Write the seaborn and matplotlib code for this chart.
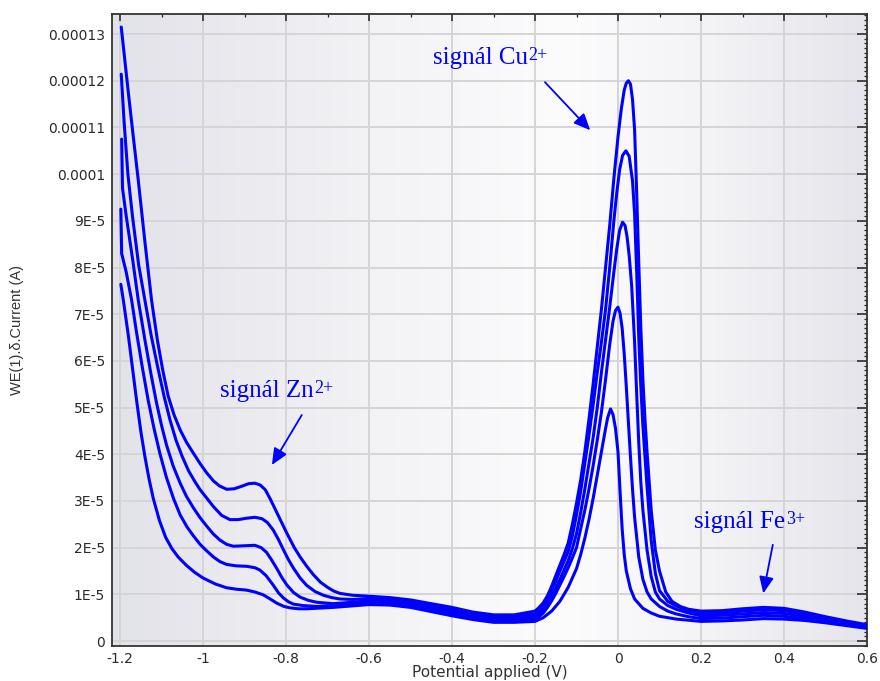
import numpy as np
import pandas as pd
import matplotlib
matplotlib.use("Agg")
import matplotlib.pyplot as plt
import seaborn as sns
from matplotlib.colors import LinearSegmentedColormap
from matplotlib.ticker import FixedLocator, MultipleLocator

# (potential V, current in 1E-5 A), lowest to highest
c0 = [(-1.198, 7.64), (-1.192, 7.3), (-1.18, 6.55), (-1.17, 5.85), (-1.16, 5.15), (-1.15, 4.5),
      (-1.14, 3.95), (-1.13, 3.47), (-1.12, 3.06), (-1.105, 2.58), (-1.09, 2.22), (-1.075, 1.98),
      (-1.06, 1.8), (-1.04, 1.62), (-1.02, 1.47), (-1.0, 1.35), (-0.97, 1.22), (-0.943, 1.14),
      (-0.92, 1.11), (-0.895, 1.09), (-0.875, 1.05), (-0.855, 0.99), (-0.84, 0.91), (-0.822, 0.81),
      (-0.805, 0.74), (-0.79, 0.71), (-0.77, 0.69), (-0.75, 0.69), (-0.686, 0.72), (-0.60, 0.78),
      (-0.55, 0.77), (-0.50, 0.72), (-0.45, 0.63), (-0.40, 0.54), (-0.35, 0.46), (-0.30, 0.40),
      (-0.25, 0.40), (-0.20, 0.42), (-0.18, 0.5), (-0.16, 0.64), (-0.14, 0.85), (-0.12, 1.15),
      (-0.10, 1.55), (-0.09, 1.85), (-0.08, 2.2), (-0.07, 2.6), (-0.06, 3.05), (-0.05, 3.55),
      (-0.04, 4.05), (-0.03, 4.55), (-0.025, 4.78), (-0.018, 4.97), (-0.012, 4.85), (-0.006, 4.55),
      (0.0, 4.05), (0.005, 3.2), (0.01, 2.4), (0.015, 1.85), (0.02, 1.5), (0.03, 1.12), (0.04, 0.9),
      (0.06, 0.7), (0.08, 0.6), (0.10, 0.53), (0.14, 0.47), (0.20, 0.42), (0.25, 0.43), (0.30, 0.45),
      (0.35, 0.48), (0.40, 0.47), (0.45, 0.44), (0.50, 0.39), (0.55, 0.33), (0.60, 0.27)]

c1 = [(-1.198, 9.25), (-1.196, 8.3), (-1.185, 7.9), (-1.172, 7.3), (-1.16, 6.6), (-1.146, 5.85),
      (-1.132, 5.15), (-1.118, 4.55), (-1.104, 4.02), (-1.088, 3.5), (-1.071, 3.05), (-1.055, 2.7),
      (-1.039, 2.45), (-1.023, 2.25), (-1.007, 2.07), (-0.991, 1.93), (-0.975, 1.8), (-0.959, 1.7),
      (-0.943, 1.64), (-0.92, 1.61), (-0.895, 1.6), (-0.875, 1.57), (-0.863, 1.52), (-0.848, 1.4),
      (-0.831, 1.2), (-0.818, 1.03), (-0.806, 0.92), (-0.794, 0.84), (-0.782, 0.79), (-0.76, 0.76),
      (-0.726, 0.74), (-0.646, 0.78), (-0.60, 0.82), (-0.55, 0.81), (-0.50, 0.76), (-0.45, 0.68),
      (-0.40, 0.59), (-0.35, 0.50), (-0.30, 0.44), (-0.25, 0.44), (-0.20, 0.47), (-0.19, 0.52),
      (-0.18, 0.6), (-0.17, 0.72), (-0.16, 0.86), (-0.15, 1.02), (-0.14, 1.2), (-0.13, 1.38),
      (-0.12, 1.57), (-0.11, 1.78), (-0.10, 2.0), (-0.09, 2.4), (-0.08, 2.8), (-0.07, 3.25),
      (-0.06, 3.75), (-0.05, 4.3), (-0.04, 4.9), (-0.03, 5.6), (-0.02, 6.35), (-0.012, 6.85),
      (-0.006, 7.08), (0.0, 7.15), (0.005, 7.02), (0.01, 6.7), (0.015, 6.15), (0.02, 5.45),
      (0.025, 4.7), (0.03, 3.95), (0.035, 3.25), (0.04, 2.65), (0.05, 1.8), (0.06, 1.32), (0.07, 1.05),
      (0.08, 0.9), (0.10, 0.74), (0.12, 0.64), (0.14, 0.58), (0.17, 0.52), (0.20, 0.48), (0.25, 0.49),
      (0.30, 0.52), (0.35, 0.55), (0.40, 0.53), (0.45, 0.48), (0.50, 0.42), (0.55, 0.35), (0.60, 0.29)]

c2 = [(-1.196, 10.75), (-1.194, 9.7), (-1.185, 9.1), (-1.17, 8.2), (-1.156, 7.3), (-1.14, 6.45),
      (-1.125, 5.7), (-1.112, 5.1), (-1.1, 4.62), (-1.088, 4.2), (-1.072, 3.75), (-1.055, 3.38),
      (-1.04, 3.1), (-1.023, 2.85), (-1.007, 2.64), (-0.991, 2.46), (-0.975, 2.29), (-0.959, 2.16),
      (-0.943, 2.07), (-0.927, 2.03), (-0.90, 2.04), (-0.875, 2.05), (-0.86, 2.0), (-0.847, 1.9),
      (-0.835, 1.74), (-0.822, 1.55), (-0.81, 1.36), (-0.798, 1.2), (-0.782, 1.04), (-0.766, 0.94),
      (-0.746, 0.87), (-0.726, 0.83), (-0.70, 0.81), (-0.686, 0.8), (-0.64, 0.83), (-0.60, 0.86),
      (-0.55, 0.85), (-0.50, 0.80), (-0.45, 0.72), (-0.40, 0.63), (-0.35, 0.54), (-0.30, 0.48),
      (-0.25, 0.48), (-0.20, 0.53), (-0.19, 0.58), (-0.18, 0.67), (-0.17, 0.8), (-0.16, 0.96),
      (-0.15, 1.13), (-0.14, 1.32), (-0.13, 1.52), (-0.12, 1.72), (-0.11, 1.98), (-0.10, 2.3),
      (-0.09, 2.75), (-0.08, 3.25), (-0.07, 3.8), (-0.06, 4.35), (-0.05, 5.0), (-0.04, 5.75),
      (-0.03, 6.45), (-0.02, 7.15), (-0.01, 7.9), (-0.003, 8.4), (0.004, 8.8), (0.011, 8.97),
      (0.017, 8.9), (0.022, 8.65), (0.027, 8.25), (0.033, 7.6), (0.04, 6.4), (0.045, 5.3), (0.05, 4.25),
      (0.055, 3.4), (0.06, 2.8), (0.07, 1.95), (0.08, 1.38), (0.09, 1.05), (0.10, 0.9), (0.12, 0.76),
      (0.14, 0.68), (0.17, 0.6), (0.20, 0.54), (0.25, 0.55), (0.30, 0.58), (0.35, 0.61), (0.40, 0.59),
      (0.45, 0.53), (0.50, 0.46), (0.55, 0.38), (0.60, 0.31)]

c3 = [(-1.197, 12.14), (-1.19, 11.1), (-1.181, 10.0), (-1.17, 9.1), (-1.155, 8.05), (-1.14, 7.3),
      (-1.125, 6.55), (-1.11, 5.9), (-1.094, 5.25), (-1.08, 4.75), (-1.065, 4.3), (-1.05, 3.95),
      (-1.035, 3.65), (-1.02, 3.42), (-1.007, 3.24), (-0.99, 3.05), (-0.975, 2.88), (-0.955, 2.69),
      (-0.935, 2.6), (-0.915, 2.6), (-0.895, 2.63), (-0.875, 2.65), (-0.858, 2.62), (-0.845, 2.54),
      (-0.831, 2.38), (-0.818, 2.17), (-0.806, 1.95), (-0.794, 1.74), (-0.782, 1.56), (-0.766, 1.35),
      (-0.75, 1.19), (-0.73, 1.06), (-0.71, 0.98), (-0.69, 0.93), (-0.67, 0.9), (-0.64, 0.89),
      (-0.60, 0.91), (-0.55, 0.89), (-0.50, 0.84), (-0.45, 0.76), (-0.40, 0.68), (-0.35, 0.58),
      (-0.30, 0.52), (-0.25, 0.52), (-0.20, 0.58), (-0.19, 0.64), (-0.18, 0.74), (-0.17, 0.9),
      (-0.16, 1.08), (-0.15, 1.28), (-0.14, 1.5), (-0.13, 1.7), (-0.12, 1.92), (-0.11, 2.25),
      (-0.10, 2.7), (-0.09, 3.2), (-0.08, 3.8), (-0.07, 4.4), (-0.06, 5.05), (-0.05, 5.75),
      (-0.04, 6.4), (-0.03, 7.1), (-0.02, 8.0), (-0.01, 9.0), (-0.003, 9.6), (0.004, 10.1),
      (0.011, 10.4), (0.019, 10.5), (0.027, 10.38), (0.035, 9.85), (0.04, 9.15), (0.045, 7.9),
      (0.05, 6.5), (0.055, 5.45), (0.06, 4.6), (0.07, 3.3), (0.08, 2.15), (0.09, 1.45), (0.10, 1.08),
      (0.12, 0.85), (0.14, 0.75), (0.17, 0.65), (0.20, 0.59), (0.25, 0.60), (0.30, 0.64), (0.35, 0.67),
      (0.40, 0.65), (0.45, 0.58), (0.50, 0.49), (0.55, 0.41), (0.60, 0.33)]

c4 = [(-1.197, 13.15), (-1.18, 11.75), (-1.168, 10.8), (-1.156, 9.87), (-1.14, 8.55), (-1.124, 7.3),
      (-1.11, 6.45), (-1.097, 5.8), (-1.084, 5.25), (-1.07, 4.85), (-1.055, 4.52), (-1.04, 4.26),
      (-1.023, 4.02), (-1.007, 3.8), (-0.991, 3.6), (-0.975, 3.43), (-0.96, 3.32), (-0.943, 3.25),
      (-0.925, 3.26), (-0.905, 3.32), (-0.89, 3.37), (-0.875, 3.38), (-0.862, 3.34), (-0.85, 3.24),
      (-0.839, 3.06), (-0.828, 2.86), (-0.815, 2.62), (-0.798, 2.31), (-0.78, 2.0), (-0.766, 1.8),
      (-0.75, 1.6), (-0.734, 1.42), (-0.717, 1.26), (-0.70, 1.15), (-0.685, 1.07), (-0.67, 1.02),
      (-0.64, 0.98), (-0.60, 0.96), (-0.55, 0.93), (-0.50, 0.88), (-0.45, 0.80), (-0.40, 0.72),
      (-0.35, 0.62), (-0.30, 0.56), (-0.25, 0.56), (-0.20, 0.64), (-0.19, 0.72), (-0.18, 0.82),
      (-0.17, 0.97), (-0.16, 1.17), (-0.15, 1.4), (-0.13, 1.85), (-0.12, 2.1), (-0.11, 2.5),
      (-0.10, 2.95), (-0.09, 3.45), (-0.08, 4.05), (-0.07, 4.75), (-0.06, 5.5), (-0.05, 6.3),
      (-0.04, 7.1), (-0.03, 8.0), (-0.02, 8.9), (-0.01, 9.9), (0.0, 10.8), (0.008, 11.4),
      (0.015, 11.8), (0.02, 11.95), (0.025, 12.0), (0.03, 11.93), (0.035, 11.6), (0.04, 10.95),
      (0.045, 9.6), (0.05, 8.1), (0.055, 6.7), (0.06, 5.6), (0.065, 4.75), (0.07, 4.05), (0.08, 2.8),
      (0.09, 1.95), (0.10, 1.5), (0.115, 1.05), (0.13, 0.85), (0.15, 0.74), (0.17, 0.68), (0.20, 0.64),
      (0.25, 0.65), (0.30, 0.69), (0.35, 0.72), (0.40, 0.70), (0.45, 0.62), (0.50, 0.52), (0.55, 0.43),
      (0.60, 0.35)]

scans = [c0, c1, c2, c3, c4]

xtick_vals = [-1.2, -1.0, -0.8, -0.6, -0.4, -0.2, 0.0, 0.2, 0.4, 0.6]
xtick_labels = ["-1.2", "-1", "-0.8", "-0.6", "-0.4", "-0.2", "0", "0.2", "0.4", "0.6"]
ytick_vals = [i * 1e-5 for i in range(14)]
ytick_labels = ["0", "1E-5", "2E-5", "3E-5", "4E-5", "5E-5", "6E-5", "7E-5", "8E-5", "9E-5",
                "0.0001", "0.00011", "0.00012", "0.00013"]

rows = []
for i, scan in enumerate(scans):
    for pot, cur in scan:
        rows.append((i, pot, cur * 1e-5))
df = pd.DataFrame(rows, columns=["scan", "potential", "current"])

blue = "#0000ff"

sns.set_style("white")
plt.rcParams["font.family"] = ["DejaVu Sans"]

fig = plt.figure(figsize=(8.8, 6.81), dpi=100)
ax = fig.add_axes([112 / 880, 35 / 681, 755 / 880, 632 / 681])

# soft grey-white gradient behind the plot
bg = LinearSegmentedColormap.from_list(
    "bg", [(0, "#e2e2e9"), (0.35, "#f3f3f6"), (0.6, "#fcfcfd"), (0.8, "#f3f3f6"), (1, "#e5e5eb")])
ax.imshow(np.linspace(0, 1, 256)[None, :], cmap=bg, extent=(0, 1, 0, 1), transform=ax.transAxes,
          aspect="auto", zorder=0, interpolation="bilinear")

sns.lineplot(data=df, x="potential", y="current", units="scan", estimator=None, sort=False,
             color=blue, lw=2.2, ax=ax, zorder=3)

ax.set_xlim(-1.2193, 0.6)
ax.set_ylim(-0.107e-5, 13.43e-5)

ax.grid(True, which="major", color="#d5d5d5", lw=1.4)
ax.set_axisbelow(True)

ax.xaxis.set_major_locator(FixedLocator(xtick_vals))
ax.set_xticklabels(xtick_labels)
ax.yaxis.set_major_locator(FixedLocator(ytick_vals))
ax.set_yticklabels(ytick_labels)
ax.xaxis.set_minor_locator(MultipleLocator(0.1))
ax.yaxis.set_minor_locator(MultipleLocator(1e-6))

ax.tick_params(which="both", direction="in", top=True, right=True, colors="#222222",
               labelcolor="#2a2a2a", labelsize=10)
ax.tick_params(which="major", length=5, width=1.1)
ax.tick_params(which="minor", length=2.5, width=0.9)
ax.tick_params(axis="y", which="major", length=7, pad=5)
ax.tick_params(axis="x", pad=4)

for sp in ax.spines.values():
    sp.set_color("#333333")
    sp.set_linewidth(1.3)

ax.set_xlabel("Potential applied (V)", fontsize=11, color="#333333")
ax.xaxis.set_label_coords(0.5, -0.030)
ax.set_ylabel("WE(1).δ.Current (A)", fontsize=10.5, color="#333333", family="Liberation Sans")
ax.yaxis.set_label_coords(-0.116, 0.5)

# peak labels with arrows
serif = "Liberation Serif"
labels = [("signál Cu", "2+", (-0.446, 12.36e-5), (-0.176, 11.97e-5), (-0.067, 10.94e-5)),
          ("signál Zn", "2+", (-0.959, 5.23e-5), (-0.762, 4.84e-5), (-0.834, 3.77e-5)),
          ("signál Fe", "3+", (0.183, 2.41e-5), (0.373, 2.06e-5), (0.350, 1.02e-5))]
for main, sup, pos, tail, tip in labels:
    t = ax.text(pos[0], pos[1], main, family=serif, fontsize=18, color=blue, va="baseline", zorder=5)
    ax.annotate(sup, xy=(1, 1), xycoords=t, xytext=(0.5, 0), textcoords="offset points",
                ha="left", va="top", family=serif, fontsize=13, color=blue, zorder=5)
    ax.annotate("", xy=tip, xytext=tail,
                arrowprops=dict(arrowstyle="-|>,head_length=0.5,head_width=0.22", mutation_scale=20,
                                lw=1.3, color=blue, shrinkA=0, shrinkB=0), zorder=5)

fig.savefig("out.png", dpi=100)
